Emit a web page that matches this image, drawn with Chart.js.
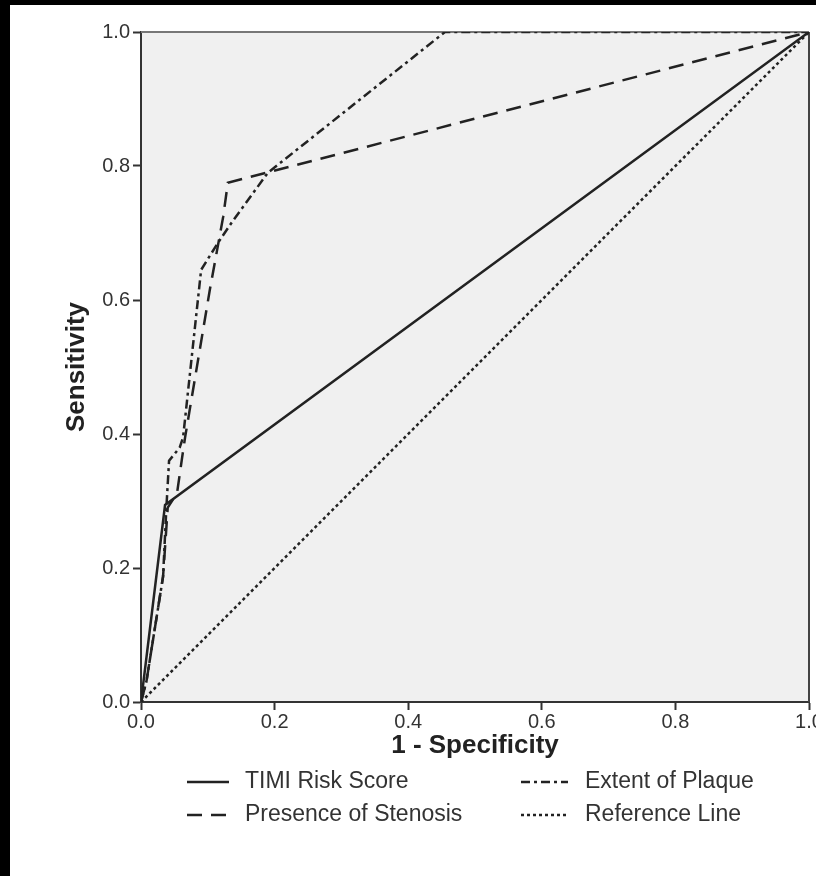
<!DOCTYPE html>
<html>
<head>
<meta charset="utf-8">
<script src="https://cdn.jsdelivr.net/npm/chart.js@4.4.1/dist/chart.umd.min.js"></script>
<style>
  html, body { margin: 0; padding: 0; background: #000; }
  #wrap { position: absolute; left: 10px; top: 5px; width: 806px; height: 871px; background: #fff; }
</style>
</head>
<body>
<div id="wrap"><canvas id="roc" width="806" height="871"></canvas></div>
<script>
// DATA
const seriesNames = ["TIMI Risk Score", "Presence of Stenosis", "Extent of Plaque", "Reference Line"];
const axisTicks = [0, 0.2, 0.4, 0.6, 0.8, 1.0];

const timiFpr = [0, 0.036, 1];
const timiSens = [0, 0.294, 1];

const stenosisFpr = [0, 0.008, 0.033, 0.04, 0.054, 0.061, 0.066, 0.103, 0.123, 0.13, 1];
const stenosisSens = [0, 0.03, 0.187, 0.29, 0.312, 0.361, 0.395, 0.615, 0.724, 0.775, 1];

const plaqueFpr = [0, 0.008, 0.033, 0.038, 0.042, 0.058, 0.063, 0.09, 0.115, 0.136, 0.19, 0.455, 1];
const plaqueSens = [0, 0.03, 0.187, 0.29, 0.36, 0.38, 0.395, 0.645, 0.685, 0.716, 0.79, 1, 1];

const refFpr = [0, 1];
const refSens = [0, 1];

function pts(xs, ys) {
  return xs.map((x, i) => ({ x: x, y: ys[i] }));
}

// CHART
Chart.defaults.font.family = "'Liberation Sans', Arial, sans-serif";

const plotFrame = {
  id: "plotFrame",
  beforeDraw(chart) {
    const a = chart.chartArea, ctx = chart.ctx;
    ctx.save();
    ctx.fillStyle = "#f0f0f0";
    ctx.fillRect(a.left, a.top, a.right - a.left, a.bottom - a.top);
    ctx.restore();
  },
  beforeDatasetsDraw(chart) {
    const a = chart.chartArea, ctx = chart.ctx;
    ctx.save();
    ctx.lineWidth = 2;
    ctx.strokeStyle = "#777";
    ctx.beginPath();
    ctx.moveTo(a.left, a.top);
    ctx.lineTo(a.right, a.top);
    ctx.stroke();
    ctx.strokeStyle = "#444";
    ctx.beginPath();
    ctx.moveTo(a.right, a.top);
    ctx.lineTo(a.right, a.bottom);
    ctx.stroke();
    ctx.restore();
  }
};

// legend in two columns, like the original
const rocLegend = {
  id: "rocLegend",
  afterDraw(chart) {
    const ctx = chart.ctx;
    const cols = [{ s0: 177, s1: 219, tx: 235 }, { s0: 511, s1: 558, tx: 575 }];
    const rows = [777, 810];
    ctx.save();
    ctx.font = "23px 'Liberation Sans', Arial, sans-serif";
    ctx.textBaseline = "middle";
    ctx.fillStyle = "#333";
    chart.data.datasets.forEach((ds, i) => {
      const c = cols[Math.floor(i / 2)], y = rows[i % 2];
      ctx.strokeStyle = ds.borderColor;
      ctx.lineWidth = 2.5;
      ctx.setLineDash(ds.borderDash || []);
      ctx.beginPath();
      ctx.moveTo(c.s0, y);
      ctx.lineTo(c.s1, y);
      ctx.stroke();
      ctx.setLineDash([]);
      ctx.fillText(ds.label, c.tx, y);
    });
    ctx.restore();
  }
};

function line(label, data, dash) {
  return {
    label: label,
    data: data,
    showLine: true,
    borderColor: "#222",
    borderWidth: 2.5,
    borderDash: dash,
    pointRadius: 0,
    fill: false,
    tension: 0
  };
}

const axisCommon = {
  type: "linear",
  min: 0,
  max: 1,
  afterBuildTicks: s => { s.ticks = axisTicks.map(v => ({ value: v })); },
  grid: { drawOnChartArea: false, drawTicks: true, tickLength: 8, tickWidth: 2, tickColor: "#333" },
  border: { color: "#333", width: 2 }
};

new Chart(document.getElementById("roc"), {
  type: "scatter",
  data: {
    datasets: [
      line(seriesNames[0], pts(timiFpr, timiSens), []),
      line(seriesNames[1], pts(stenosisFpr, stenosisSens), [15, 9]),
      line(seriesNames[2], pts(plaqueFpr, plaqueSens), [9, 4, 3, 4]),
      line(seriesNames[3], pts(refFpr, refSens), [3, 3])
    ]
  },
  options: {
    responsive: false,
    animation: false,
    layout: { padding: { top: 27, right: 7, left: 0, bottom: 0 } },
    plugins: { legend: { display: false }, tooltip: { enabled: false } },
    scales: {
      x: Object.assign({}, axisCommon, {
        ticks: { callback: v => v.toFixed(1), font: { size: 20 }, color: "#333", padding: 0, maxRotation: 0 },
        title: { display: true, text: "1 - Specificity", color: "#222", font: { size: 26, weight: "bold" }, padding: { top: 0, bottom: 115 } },
        afterFit: s => { s.height = 174; s.paddingLeft = 0; s.paddingRight = 0; }
      }),
      y: Object.assign({}, axisCommon, {
        ticks: { callback: v => v.toFixed(1), font: { size: 20 }, color: "#333", padding: 3 },
        title: { display: true, text: "Sensitivity", color: "#222", font: { size: 26, weight: "bold" }, padding: { top: 51, bottom: 0 } },
        afterFit: s => { s.width = 131; s.paddingTop = 0; s.paddingBottom = 0; }
      })
    }
  },
  plugins: [plotFrame, rocLegend]
});
</script>
</body>
</html>
